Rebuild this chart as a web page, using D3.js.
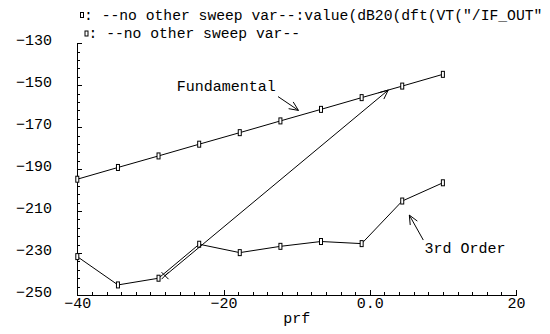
<!DOCTYPE html>
<html>
<head>
<meta charset="utf-8">
<script src="https://cdn.jsdelivr.net/npm/d3@7"></script>
<style>
  html, body { margin: 0; padding: 0; background: #fff; }
  svg { display: block; }
  text { font-family: "Liberation Mono", "DejaVu Sans Mono", monospace; font-size: 15px; fill: #000;
         font-variant-numeric: slashed-zero; }
  text.legend { font-size: 14.7px; }
</style>
</head>
<body>
<svg id="chart" width="550" height="334"></svg>
<script>
// Sweep points (prf, dBm) and the two measured responses
const prf = [-40, -34.44, -28.89, -23.33, -17.78, -12.22, -6.67, -1.11, 4.44, 10];
const fundamental = [-194.8, -189.2, -183.7, -178.1, -172.6, -167.0, -161.5, -155.9, -150.4, -144.8];
const thirdOrder = [-231.7, -245.2, -242.0, -225.8, -229.8, -226.8, -224.5, -225.5, -205.2, -196.5];

// Axis ticks and labels
const xTicks = [-40, -20, 0, 20];
const xTickLabels = ["\u221240", "\u221220", "0.0", "20"];
const yTicks = [-250, -230, -210, -190, -170, -150, -130];
const xLabel = "prf";

// Legend lines
const legendLines = [
  ": --no other sweep var--:value(dB20(dft(VT(\"/IF_OUT\"",
  ": --no other sweep var--"
];

// Annotations (data coordinates)
const labels = [
  { text: "Fundamental", x: -26.4, y: -152.7 },
  { text: "3rd Order", x: 7.5, y: -230.1 }
];
const arrows = [
  { x1: -12.55, y1: -155.4, x2: -9.75, y2: -162.0 },
  { x1: -28.0, y1: -240.8, x2: 2.53, y2: -152.3 },
  { x1: 7.32, y1: -223.8, x2: 5.41, y2: -211.9 }
];
const cursorMark = { x: -28.0, y: -240.8 };

const svg = d3.select("#chart");
const x = d3.scaleLinear().domain([-40, 20]).range([77.3, 516]);
const y = d3.scaleLinear().domain([-250, -130]).range([295, 43.3]);

// Minor ticks
const xMinor = d3.range(-40, 20.001, 2).filter(v => !xTicks.includes(v));
const yMinor = d3.range(-250, -129.999, 4).filter(v => !yTicks.includes(v));

const gx = svg.append("g").attr("transform", `translate(0,${y(-250)})`);
gx.call(d3.axisBottom(x).tickValues(xTicks).tickSize(-5).tickSizeOuter(0)
  .tickPadding(2).tickFormat((d, i) => xTickLabels[i]));
gx.append("g").call(d3.axisBottom(x).tickValues(xMinor).tickSize(-3).tickFormat(""))
  .select(".domain").remove();

const gy = svg.append("g").attr("transform", `translate(${x(-40)},0)`);
gy.call(d3.axisLeft(y).tickValues(yTicks).tickSize(-5).tickSizeOuter(0)
  .tickPadding(0).tickFormat(d3.format("d")));
gy.append("g").call(d3.axisLeft(y).tickValues(yMinor).tickSize(-3).tickFormat(""))
  .select(".domain").remove();

svg.selectAll(".tick text").attr("font-family", null).attr("font-size", null).attr("fill", null);
gy.selectAll(".tick text").attr("x", 52 - x(-40)).attr("dy", "0.1em").attr("text-anchor", "end");
gx.selectAll(".tick text").attr("dy", "0.75em");
svg.selectAll(".domain, .tick line").attr("stroke", "#000").attr("stroke-width", 1)
  .attr("shape-rendering", "crispEdges");

svg.append("text").attr("x", (x(-40) + x(20)) / 2).attr("y", 323)
  .attr("text-anchor", "middle").text(xLabel);

// Series lines and markers
const line = d3.line().x(d => x(d[0])).y(d => y(d[1]));
[fundamental, thirdOrder].forEach(series => {
  const pts = prf.map((p, i) => [p, series[i]]);
  svg.append("path").datum(pts).attr("d", line)
    .attr("fill", "none").attr("stroke", "#000").attr("stroke-width", 1);
  svg.selectAll(null).data(pts).enter().append("rect")
    .attr("x", d => x(d[0]) - 1.5).attr("y", d => y(d[1]) - 3)
    .attr("width", 3).attr("height", 6)
    .attr("fill", "#fff").attr("stroke", "#000").attr("stroke-width", 1);
});

// Annotation arrows with open heads
const g = svg.append("g").attr("stroke", "#000").attr("stroke-width", 1).attr("fill", "none");
arrows.forEach(a => {
  const px1 = x(a.x1), py1 = y(a.y1), px2 = x(a.x2), py2 = y(a.y2);
  g.append("line").attr("x1", px1).attr("y1", py1).attr("x2", px2).attr("y2", py2);
  const ang = Math.atan2(py2 - py1, px2 - px1), L = 10, w = 0.42;
  g.append("path").attr("d",
    `M${px2 - L * Math.cos(ang - w)},${py2 - L * Math.sin(ang - w)}L${px2},${py2}` +
    `L${px2 - L * Math.cos(ang + w)},${py2 - L * Math.sin(ang + w)}`);
});
const cx = x(cursorMark.x), cy = y(cursorMark.y);
g.append("path").attr("d", `M${cx - 3.5},${cy - 3.5}L${cx + 3.5},${cy + 3.5}M${cx - 3.5},${cy + 3.5}L${cx + 3.5},${cy - 3.5}`);

labels.forEach(l => {
  svg.append("text").attr("x", x(l.x)).attr("y", y(l.y)).text(l.text);
});

// Legend
const legendPos = [{ mx: 82, my: 15, tx: 84, ty: 19.5 }, { mx: 86.5, my: 33.5, tx: 88.5, ty: 38 }];
legendLines.forEach((t, i) => {
  const p = legendPos[i];
  svg.append("rect").attr("x", p.mx - 1.5).attr("y", p.my - 2.5).attr("width", 3).attr("height", 5)
    .attr("fill", "#fff").attr("stroke", "#000").attr("stroke-width", 1);
  svg.append("text").attr("class", "legend").attr("x", p.tx).attr("y", p.ty).text(t);
});
</script>
</body>
</html>
